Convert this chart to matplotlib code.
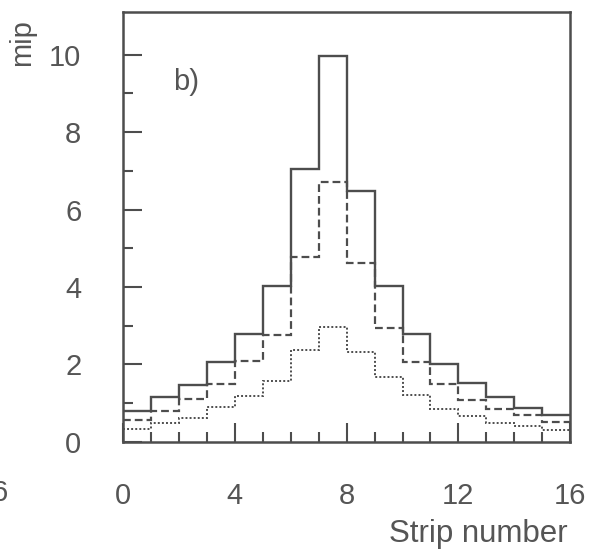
import numpy as np
import matplotlib
matplotlib.use("Agg")
import matplotlib.pyplot as plt

# strip edges 0..16 and energy per strip (in mip) for three event classes
edges = np.arange(0, 17)
solid_vals = [0.80, 1.17, 1.46, 2.06, 2.78, 4.03, 7.05, 9.98,
              6.48, 4.03, 2.78, 2.02, 1.52, 1.15, 0.88, 0.68]
dashed_vals = [0.55, 0.79, 1.11, 1.50, 2.08, 2.75, 4.77, 6.72,
               4.61, 2.94, 2.07, 1.50, 1.09, 0.84, 0.68, 0.51]
dotted_vals = [0.34, 0.48, 0.62, 0.90, 1.19, 1.58, 2.38, 2.97,
               2.31, 1.67, 1.20, 0.85, 0.66, 0.49, 0.41, 0.30]

x_major = [0, 4, 8, 12, 16]
y_major = [0, 2, 4, 6, 8, 10]

ink = "#4d4d4d"
txt = "#555555"
fs = 21
plt.rcParams['font.family'] = ['Liberation Sans', 'DejaVu Sans']

fig = plt.figure(figsize=(5.94, 5.55), dpi=100)
ax = fig.add_axes([0.207, 0.204, 0.753, 0.774])

ax.stairs(solid_vals, edges, baseline=None, color=ink, lw=1.7, ls='-')
ax.stairs(dashed_vals, edges, baseline=None, color=ink, lw=1.6, ls=(0, (3.5, 1.8)))
ax.stairs(dotted_vals, edges, baseline=None, color=ink, lw=1.4, ls=(0, (1, 1.1)))

ax.set_xlim(0, 16)
ax.set_ylim(0, 11.1)
ax.set_xticks(x_major)
ax.set_xticks(edges, minor=True)
ax.set_yticks(y_major)
ax.set_yticks([1, 3, 5, 7, 9], minor=True)

for s in ax.spines.values():
    s.set_color(ink)
    s.set_linewidth(1.8)

ax.tick_params(which='major', direction='in', length=14, width=1.5, color=ink,
               labelsize=fs, labelcolor=txt)
ax.tick_params(which='minor', direction='in', length=7, width=1.5, color=ink)
ax.tick_params(axis='y', which='major', pad=30)
ax.tick_params(axis='x', which='major', pad=29)

ax.text(1.8, 9.3, "b)", fontsize=fs, color=txt, va='center', ha='left')
fig.text(0.037, 0.965, "mip", rotation=90, fontsize=fs, color=txt,
         va='top', ha='center')
fig.text(0.956, 0.0234, "Strip number", fontsize=22.5, color=txt,
         va='baseline', ha='right')
fig.text(-0.014, 0.112, "6", fontsize=fs, color=txt, va='center', ha='left')

fig.savefig("out.png", dpi=100, facecolor="white")
